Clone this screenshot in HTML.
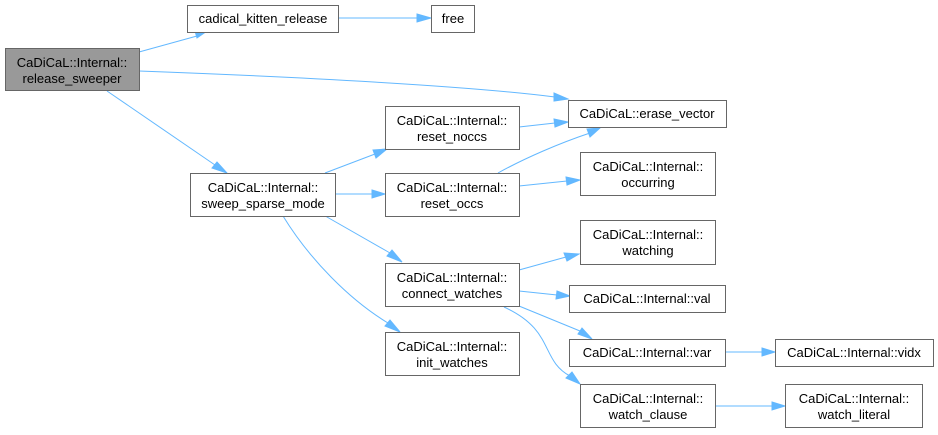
<!DOCTYPE html>
<html><head><meta charset="utf-8"><style>
html,body{margin:0;padding:0;background:#fff;width:938px;height:435px;overflow:hidden}
text{font-family:"Liberation Sans",Arial,sans-serif;font-size:13px;fill:#000}
rect{fill:#fff;stroke:#666;stroke-width:1}
path.e{fill:none;stroke:#63b8ff;stroke-width:1}
polygon{fill:#63b8ff;stroke:#63b8ff}
</style></head><body>
<svg width="938" height="435" xmlns="http://www.w3.org/2000/svg">
<path class="e" d="M139,52 L197,36"/><polygon points="195,31 210,29 197,38"/>
<path class="e" d="M338,18 L418,18"/><polygon points="417,14 431,18 417,22"/>
<path class="e" d="M139,71 C300,77 470,86 555,97"/><polygon points="554,93 568,99 554,101"/>
<path class="e" d="M107,91 L215,165"/><polygon points="212,168 227,173 217,162"/>
<path class="e" d="M325,173 L375,154"/><polygon points="373,150 387,149 376,158"/>
<path class="e" d="M335,194 L372,194"/><polygon points="372,190 385,194 372,198"/>
<path class="e" d="M519,127 L555,123"/><polygon points="554,119 568,122 555,127"/>
<path class="e" d="M498,173 C525,158 560,143 590,133"/><polygon points="587,129 600,128 590,137"/>
<path class="e" d="M519,186 L567,181"/><polygon points="566,177 580,180 567,185"/>
<path class="e" d="M320,213 L390,253"/><polygon points="387,256 402,262 392,250"/>
<path class="e" d="M283,216 C310,260 350,300 388,323"/><polygon points="385,326 400,332 390,320"/>
<path class="e" d="M519,270 L566,257"/><polygon points="564,253 579,254 567,261"/>
<path class="e" d="M519,291 L557,295"/><polygon points="557,291 570,296 556,299"/>
<path class="e" d="M519,306 L580,331"/><polygon points="578,334 592,339 582,328"/>
<path class="e" d="M504,307 C555,330 540,360 570,376"/><polygon points="566,378 580,384 572,372"/>
<path class="e" d="M725,352 L762,352"/><polygon points="762,348 775,352 762,356"/>
<path class="e" d="M716,406 L772,406"/><polygon points="772,402 785,406 772,410"/>
<rect x="5.5" y="48.5" width="134" height="42" style="fill:#999"/>
<text x="72" y="67" text-anchor="middle">CaDiCaL::Internal::</text>
<text x="72" y="83" text-anchor="middle">release_sweeper</text>
<rect x="187.5" y="5.5" width="151" height="27"/>
<text x="263" y="23" text-anchor="middle">cadical_kitten_release</text>
<rect x="431.5" y="5.5" width="43" height="27"/>
<text x="453" y="23" text-anchor="middle">free</text>
<rect x="568.5" y="100.5" width="158" height="27"/>
<text x="647" y="118" text-anchor="middle">CaDiCaL::erase_vector</text>
<rect x="385.5" y="106.5" width="134" height="43"/>
<text x="452" y="125" text-anchor="middle">CaDiCaL::Internal::</text>
<text x="452" y="141" text-anchor="middle">reset_noccs</text>
<rect x="190.5" y="173.5" width="145" height="43"/>
<text x="263" y="192" text-anchor="middle">CaDiCaL::Internal::</text>
<text x="263" y="208" text-anchor="middle">sweep_sparse_mode</text>
<rect x="385.5" y="173.5" width="134" height="43"/>
<text x="452" y="192" text-anchor="middle">CaDiCaL::Internal::</text>
<text x="452" y="208" text-anchor="middle">reset_occs</text>
<rect x="580.5" y="152.5" width="135" height="43"/>
<text x="648" y="171" text-anchor="middle">CaDiCaL::Internal::</text>
<text x="648" y="187" text-anchor="middle">occurring</text>
<rect x="580.5" y="220.5" width="135" height="44"/>
<text x="648" y="239" text-anchor="middle">CaDiCaL::Internal::</text>
<text x="648" y="255" text-anchor="middle">watching</text>
<rect x="385.5" y="263.5" width="134" height="43"/>
<text x="452" y="282" text-anchor="middle">CaDiCaL::Internal::</text>
<text x="452" y="298" text-anchor="middle">connect_watches</text>
<rect x="569.5" y="285.5" width="156" height="27"/>
<text x="647" y="303" text-anchor="middle">CaDiCaL::Internal::val</text>
<rect x="385.5" y="332.5" width="134" height="43"/>
<text x="452" y="351" text-anchor="middle">CaDiCaL::Internal::</text>
<text x="452" y="367" text-anchor="middle">init_watches</text>
<rect x="569.5" y="339.5" width="156" height="27"/>
<text x="647" y="357" text-anchor="middle">CaDiCaL::Internal::var</text>
<rect x="775.5" y="339.5" width="158" height="27"/>
<text x="854" y="357" text-anchor="middle">CaDiCaL::Internal::vidx</text>
<rect x="580.5" y="384.5" width="135" height="43"/>
<text x="648" y="403" text-anchor="middle">CaDiCaL::Internal::</text>
<text x="648" y="419" text-anchor="middle">watch_clause</text>
<rect x="785.5" y="384.5" width="137" height="43"/>
<text x="854" y="403" text-anchor="middle">CaDiCaL::Internal::</text>
<text x="854" y="419" text-anchor="middle">watch_literal</text>
</svg>
</body></html>
